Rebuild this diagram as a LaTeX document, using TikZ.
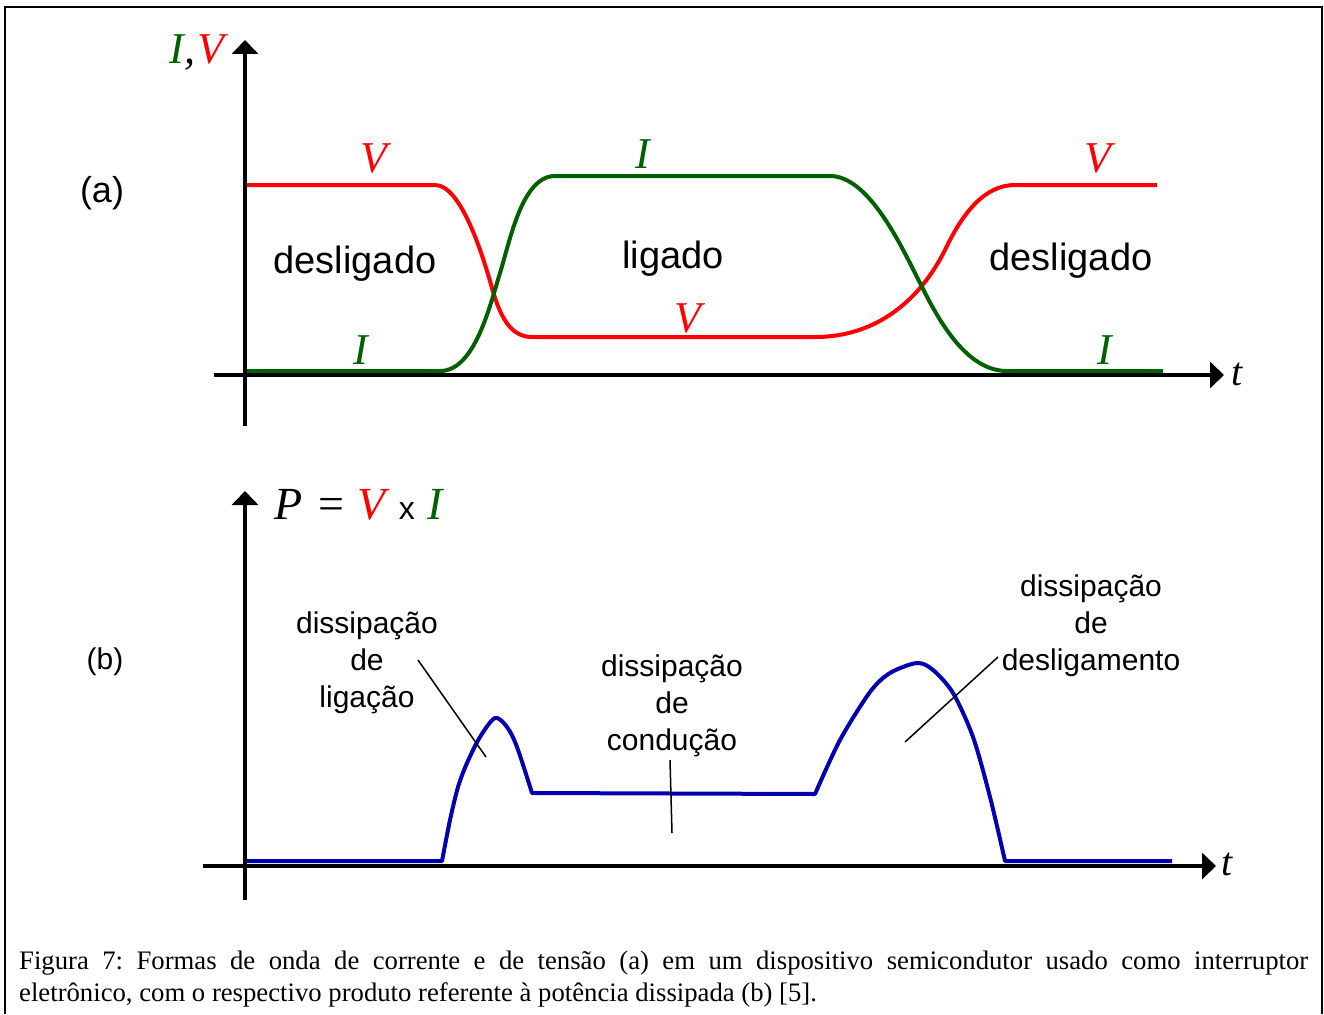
\documentclass[tikz,border=0pt]{standalone}
\usepackage{fontspec}
\setmainfont{Liberation Serif}
\setsansfont{Liberation Sans}
\usetikzlibrary{arrows.meta}
\definecolor{cred}{RGB}{255,0,0}
\definecolor{cgreen}{RGB}{0,96,0}
\definecolor{cblue}{RGB}{0,0,176}
\tikzset{
  axis/.style={line width=4pt,-{Triangle[length=14pt,width=26pt]}},
  wave/.style={line width=4pt,line join=round},
  lbl/.style={inner sep=0pt,font=\fontsize{44}{48}\selectfont\itshape},
  word/.style={inner sep=0pt,font=\fontsize{38}{44}\selectfont\sffamily},
  small/.style={inner sep=0pt,align=center,font=\fontsize{30}{37}\selectfont\sffamily},
  leader/.style={line width=1.5pt}
}
\begin{document}
\frenchspacing
\begin{tikzpicture}[x=1pt,y=-1pt]
\useasboundingbox (0,0) rectangle (1324,1014);
\draw[line width=2pt] (5,1014) -- (5,7) -- (1322,7) -- (1322,1014);
% top plot axes
\coordinate (ya0) at (245,426); \coordinate (ya1) at (245,40);
\coordinate (xa0) at (214,375); \coordinate (xa1) at (1224,375);
\draw[axis] (ya0) -- (ya1);
\draw[axis] (xa0) -- (xa1);
\node[lbl] (IV) at (197,52) {\textcolor{cgreen}{I}\kern1pt,\kern2pt\textcolor{cred}{V}};
\node[lbl,font=\fontsize{40}{44}\selectfont\itshape] (ta) at (1237,374) {t};
% waves
\draw[wave,cred] (247,185) -- (435,185)
  .. controls (462,185) and (484,260) .. (492,288)
  .. controls (500,316) and (510,337) .. (532,337)
  -- (815,337)
  .. controls (880,337) and (922,296) .. (945,250)
  .. controls (963,212) and (985,185) .. (1015,185)
  -- (1157,185);
\draw[wave,cgreen] (247,371) -- (440,371)
  .. controls (475,371) and (490,305) .. (500,273)
  .. controls (510,241) and (522,176) .. (555,176)
  -- (830,176)
  .. controls (870,176) and (903,250) .. (920,283)
  .. controls (937,317) and (965,371) .. (1007,371)
  -- (1163,371);
\node[lbl,cred] (v1) at (374,158) {V};
\node[lbl,cgreen] (i1) at (643,154) {I};
\node[lbl,cred] (v2) at (1098,158) {V};
\node[lbl,cgreen] (i2) at (361,350) {I};
\node[lbl,cred] (v3) at (688,318) {V};
\node[lbl,cgreen] (i3) at (1105,350) {I};
\node[word,font=\fontsize{36}{40}\selectfont\sffamily] (a) at (102,193) {(a)};
\node[word] (d1) at (355,264) {desligado};
\node[word] (lg) at (673,259) {ligado};
\node[word] (d2) at (1071,261) {desligado};
% bottom plot
\coordinate (yb0) at (245,900); \coordinate (yb1) at (245,491);
\coordinate (xb0) at (203,866); \coordinate (xb1) at (1216,866);
\draw[axis] (yb0) -- (yb1);
\draw[axis] (xb0) -- (xb1);
\node[lbl,font=\fontsize{40}{44}\selectfont\itshape] (tb) at (1227,864) {t};
\node[inner sep=0pt,anchor=base west,font=\fontsize{46}{50}\selectfont] (P) at (274,519) {\textit{P}\kern16pt=\kern13pt\textcolor{cred}{\textit{V}}\kern9pt{\fontsize{32}{34}\selectfont\sffamily x}\kern13pt\textcolor{cgreen}{\textit{I}}};
\draw[wave,cblue] (247,861) -- (442,861) -- plot[smooth,tension=0.5] coordinates{(442,861)(450,820)(458,787)(467,763)(480,737)(495,718)(507,727)(517,747)(532,793)} -- (815,794) -- plot[smooth,tension=0.5] coordinates{(815,794)(840,740)(870,692)(890,673)(917,663)(933,670)(953,693)(973,737)(990,797)(1005,861)} -- (1172,861);
\node[small,font=\fontsize{30}{34}\selectfont\sffamily] (b) at (105,662) {(b)};
\node[small] (dl) at (367,663) {dissipação\\de\\ligação};
\node[small] (dc) at (672,706) {dissipação\\de\\condução};
\node[small] (dd) at (1091,626) {dissipação\\de\\desligamento};
\coordinate (l1a) at (418,660); \coordinate (l1b) at (486,757);
\coordinate (l2a) at (670,760); \coordinate (l2b) at (672,833);
\coordinate (l3a) at (998,657); \coordinate (l3b) at (905,742);
\draw[leader] (l1a) -- (l1b);
\draw[leader] (l2a) -- (l2b);
\draw[leader] (l3a) -- (l3b);
% caption
\node[inner sep=0pt,anchor=base west,text width=1289pt,align=justify,font=\fontsize{26.7}{32}\selectfont] (cap) at (19,969) {Figura 7: Formas de onda de corrente e de tensão (a) em um dispositivo semicondutor usado como interruptor\linebreak eletrônico, com o respectivo produto referente à potência dissipada (b) [5].};
\end{tikzpicture}
\end{document}
